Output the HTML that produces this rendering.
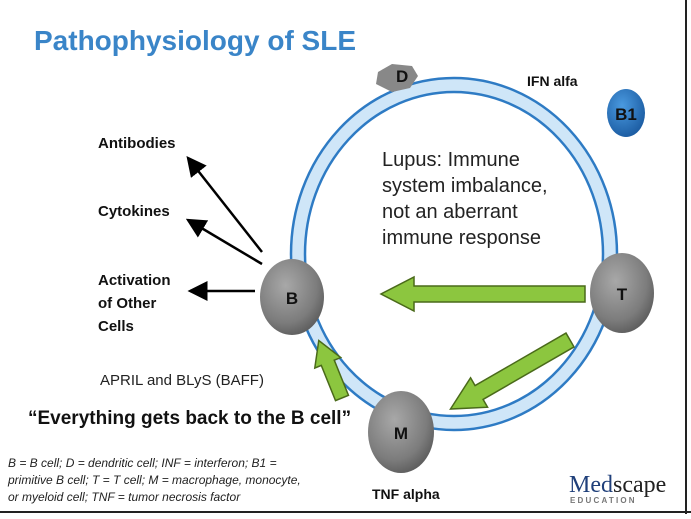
<!DOCTYPE html>
<html><head><style>
body{margin:0;width:691px;height:514px;overflow:hidden;background:#fff;font-family:"Liberation Sans",sans-serif;}
</style></head><body>
<svg width="691" height="514" viewBox="0 0 691 514" xmlns="http://www.w3.org/2000/svg">
<defs>
<radialGradient id="g" cx="0.4" cy="0.35" r="0.7"><stop offset="0" stop-color="#a8a8a8"/><stop offset="0.7" stop-color="#7c7c7c"/><stop offset="1" stop-color="#5a5a5a"/></radialGradient>
<radialGradient id="bl" cx="0.4" cy="0.35" r="0.7"><stop offset="0" stop-color="#4a9ae0"/><stop offset="1" stop-color="#1a5aa0"/></radialGradient>
<marker id="ah" markerWidth="8" markerHeight="8" refX="7" refY="4" orient="auto"><path d="M0,0 L8,4 L0,8 z" fill="#000"/></marker>
</defs>
<rect x="0" y="0" width="691" height="514" fill="#fff"/>
<line x1="686" y1="0" x2="686" y2="514" stroke="#222" stroke-width="2"/>
<line x1="0" y1="512" x2="691" y2="512" stroke="#222" stroke-width="2"/>
<text x="34" y="50" font-size="28" font-weight="bold" fill="#3a85c8">Pathophysiology of SLE</text>
<ellipse cx="454" cy="254" rx="156" ry="169" fill="none" stroke="#cfe6f8" stroke-width="14"/>
<ellipse cx="454" cy="254" rx="163" ry="176" fill="none" stroke="#2e7bc4" stroke-width="2.5"/>
<ellipse cx="454" cy="254" rx="149" ry="162" fill="none" stroke="#2e7bc4" stroke-width="2.5"/>
<text x="382" y="166" font-size="20" fill="#222">Lupus: Immune</text>
<text x="382" y="192" font-size="20" fill="#222">system imbalance,</text>
<text x="382" y="218" font-size="20" fill="#222">not an aberrant</text>
<text x="382" y="244" font-size="20" fill="#222">immune response</text>
<path d="M378,72 L392,64 L412,66 L418,76 L410,88 L392,92 L376,84 z" fill="#888"/>
<text x="396" y="82" font-size="17" font-weight="bold" fill="#111">D</text>
<text x="527" y="86" font-size="14" font-weight="bold" fill="#111">IFN alfa</text>
<ellipse cx="626" cy="113" rx="19" ry="24" fill="url(#bl)"/>
<text x="626" y="120" font-size="17" font-weight="bold" fill="#111" text-anchor="middle">B1</text>
<g fill="#8cc63f" stroke="#4a6a1a" stroke-width="1.5">
<path d="M585,286 L414,286 L414,277 L381,294 L414,311 L414,302 L585,302 z"/>
<path transform="translate(570,340) rotate(150)" d="M0,-8 L105,-8 L105,-17 L138,0 L105,17 L105,8 L0,8 z"/>
<path transform="translate(342,398) rotate(-112)" d="M0,-7 L38,-7 L38,-14 L62,0 L38,14 L38,7 L0,7 z"/>
</g>
<ellipse cx="292" cy="297" rx="32" ry="38" fill="url(#g)"/>
<text x="292" y="304" font-size="17" font-weight="bold" fill="#111" text-anchor="middle">B</text>
<ellipse cx="622" cy="293" rx="32" ry="40" fill="url(#g)"/>
<text x="622" y="300" font-size="17" font-weight="bold" fill="#111" text-anchor="middle">T</text>
<ellipse cx="401" cy="432" rx="33" ry="41" fill="url(#g)"/>
<text x="401" y="439" font-size="17" font-weight="bold" fill="#111" text-anchor="middle">M</text>
<g stroke="#000" stroke-width="2.5" marker-end="url(#ah)">
<line x1="262" y1="252" x2="188" y2="158"/>
<line x1="262" y1="264" x2="188" y2="220"/>
<line x1="255" y1="291" x2="190" y2="291"/>
</g>
<text x="98" y="148" font-size="15" font-weight="bold" fill="#111">Antibodies</text>
<text x="98" y="216" font-size="15" font-weight="bold" fill="#111">Cytokines</text>
<text x="98" y="285" font-size="15" font-weight="bold" fill="#111">Activation</text>
<text x="98" y="308" font-size="15" font-weight="bold" fill="#111">of Other</text>
<text x="98" y="331" font-size="15" font-weight="bold" fill="#111">Cells</text>
<text x="100" y="385" font-size="15" fill="#222">APRIL and BLyS (BAFF)</text>
<text x="28" y="424" font-size="19" font-weight="bold" fill="#111">“Everything gets back to the B cell”</text>
<text x="8" y="467" font-size="12" font-style="italic" fill="#222">B = B cell; D = dendritic cell; INF = interferon; B1 =</text>
<text x="8" y="484" font-size="12" font-style="italic" fill="#222">primitive B cell; T = T cell; M = macrophage, monocyte,</text>
<text x="8" y="501" font-size="12" font-style="italic" fill="#222">or myeloid cell; TNF = tumor necrosis factor</text>
<text x="372" y="499" font-size="14" font-weight="bold" fill="#111">TNF alpha</text>
<text x="569" y="492" font-size="24" font-family="Liberation Serif,serif" fill="#1f3f7a">M<tspan fill="#1f3f7a">ed</tspan><tspan fill="#222">scape</tspan></text>
<text x="570" y="503" font-size="8" font-weight="bold" fill="#777" letter-spacing="2.2">EDUCATION</text>
</svg>
</body></html>
